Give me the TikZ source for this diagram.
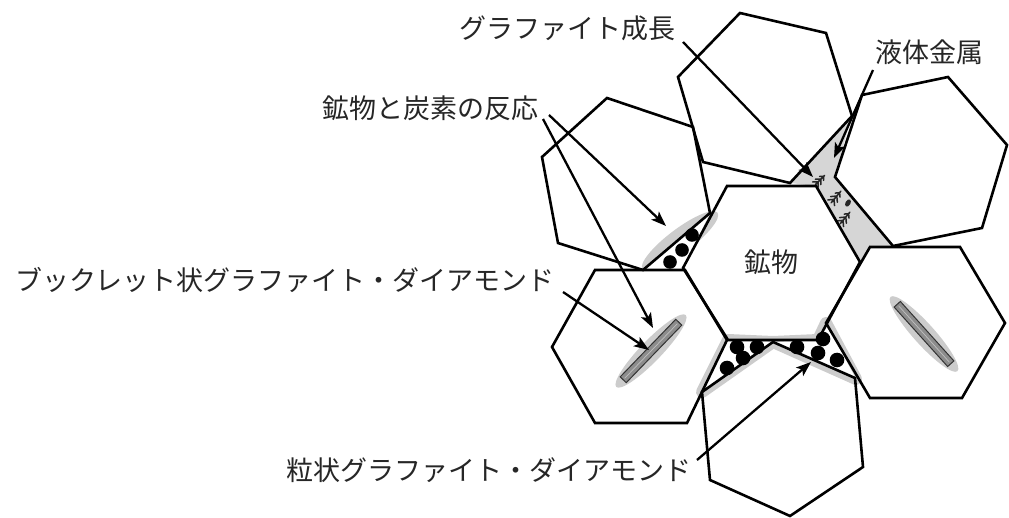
\documentclass[tikz,border=0pt]{standalone}
\usepackage{fontspec}
\newfontfamily\jpfont{Noto Sans CJK JP}
\usetikzlibrary{arrows.meta}
\begin{document}
\begin{tikzpicture}[x=1pt,y=-1pt,
  grain/.style={draw=black,line width=2.6pt,line join=miter},
  lead/.style={line width=2.3pt,-{Stealth[length=15pt,width=11pt,inset=3.5pt]}},
  lbl/.style={font=\jpfont\fontsize{27}{30}\selectfont,text=black!85,inner sep=0pt},
  halo/.style={fill=black!20},
  melt/.style={fill=black!16},
  bead/.style={fill=black},
  flake/.style={fill=black!45,draw=black!80,line width=1pt},
  fern/.pic={
    \draw[black!85,line width=1.5pt,line cap=round]
      (-6,0)--(6,0)
      (-2.5,0)--(-6,3.5) (-2.5,0)--(-6,-3.5)
      (1,0)--(-2.5,3.5) (1,0)--(-2.5,-3.5)
      (4.5,0)--(2,2.5) (4.5,0)--(2,-2.5);
  },
]
\useasboundingbox (0,0) rectangle (1009,518);

% grey halos around the reaction zones
\fill[halo,rotate around={37:(680,241)}] (680,241) ellipse [x radius=47pt,y radius=12pt];
\filldraw[halo,draw=black!20,line width=12pt,line join=round]
  (728,340)--(773,342)--(702,392)--cycle
  (773,342)--(818,340)--(826,323)--(856,379)--cycle;

% liquid metal between the grains
\fill[melt] (790,183)--(851,117)--(835,177)--(893,246)--(870,247)--(860,262)--(816,186)--cycle;

% pore spaces left between grains
\fill[white] (643,270)--(710,213)--(683,268)--cycle;
\fill[white] (728,340)--(773,342)--(702,392)--cycle
             (773,342)--(818,340)--(826,323)--(856,379)--cycle;

% granular graphite / diamond
\fill[bead] (692,235) circle[radius=6.8pt] (682,250) circle[radius=6.8pt] (670,262) circle[radius=6.8pt];
\fill[bead] (737,347) circle[radius=7.3pt] (757,347) circle[radius=7.3pt]
            (743,358) circle[radius=7.3pt] (727,368) circle[radius=7.3pt]
            (797,347) circle[radius=7.3pt] (823,339) circle[radius=7.3pt]
            (818,353) circle[radius=7.3pt] (837,360) circle[radius=7.3pt];

% graphite growing in the melt
\pic[rotate=45,scale=1.1] at (820,180) {fern};
\pic[rotate=50,scale=1.25] at (836,197) {fern};
\fill[black!85,rotate around={60:(848,203)}] (848,203) ellipse [x radius=4pt,y radius=2.5pt];
\pic[rotate=50,scale=1.25] at (845,218) {fern};

% booklet graphite / diamond inside grains
\begin{scope}[shift={(651,351)},rotate=46]
  \fill[halo] (0,0) ellipse [x radius=50pt,y radius=10.5pt];
  \filldraw[flake] (-40,-4.2) rectangle (40,4.2);
  \draw[black!25,line width=0.7pt] (-38,0)--(38,0);
\end{scope}
\begin{scope}[shift={(924,334)},rotate=-48]
  \fill[halo] (0,0) ellipse [x radius=50pt,y radius=10.5pt];
  \filldraw[flake] (-40,-4.2) rectangle (40,4.2);
  \draw[black!25,line width=0.7pt] (-38,0)--(38,0);
\end{scope}

% mineral grains
\draw[grain] (542,157)--(607,98)--(693,127)--(710,213)--(643,270)--(558,243)--cycle;
\draw[grain] (678,77)--(740,13)--(826,33)--(852,116)--(790,183)--(703,162)--cycle;
\draw[grain] (862,95)--(948,77)--(1007,145)--(982,228)--(893,246)--(835,177)--cycle;
\draw[grain] (727,186)--(816,186)--(860,262)--(818,340)--(728,340)--(683,268)--cycle;
\draw[grain] (870,247)--(960,247)--(1005,323)--(962,398)--(870,398)--(826,323)--cycle;
\draw[grain] (595,270)--(685,270)--(727,340)--(687,423)--(595,423)--(552,347)--cycle;
\draw[grain] (702,392)--(773,342)--(855,378)--(863,467)--(790,516)--(710,480)--cycle;

% labels
\node[lbl,anchor=east] (growth) at (676,28) {グラファイト成長};
\node[lbl] (melt) at (929,52) {液体金属};
\node[lbl] (reaction) at (430,108) {鉱物と炭素の反応};
\node[lbl] (booklet) at (285,280) {ブックレット状グラファイト・ダイアモンド};
\node[lbl] (granular) at (489,470) {粒状グラファイト・ダイアモンド};
\node[lbl] (mineral) at (771,262) {鉱物};

% leader arrows
\coordinate (growthTail) at (683,42);    \coordinate (growthTip) at (813,177);
\coordinate (meltTail) at (873,70);      \coordinate (meltTip) at (834,158);
\coordinate (reactTailA) at (549,115);   \coordinate (reactTipA) at (666,226);
\coordinate (reactTailB) at (543,119);   \coordinate (reactTipB) at (653,328);
\coordinate (bookTail) at (563,292);     \coordinate (bookTip) at (649,350);
\coordinate (granTail) at (697,460);     \coordinate (granTip) at (811,362);
\draw[lead] (growthTail) -- (growthTip);
\draw[lead] (meltTail) -- (meltTip);
\draw[lead] (reactTailA) -- (reactTipA);
\draw[lead] (reactTailB) -- (reactTipB);
\draw[lead] (bookTail) -- (bookTip);
\draw[lead] (granTail) -- (granTip);
\end{tikzpicture}
\end{document}
